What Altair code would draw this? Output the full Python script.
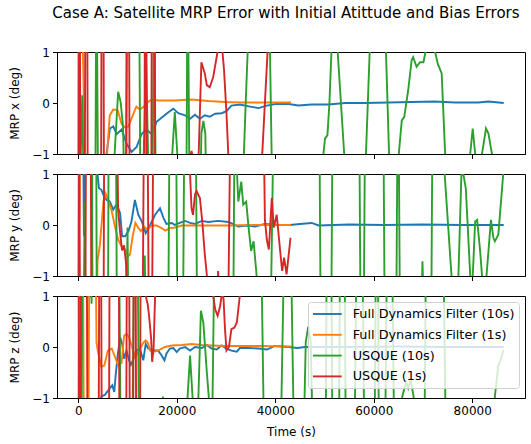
import altair as alt
import pandas as pd

TITLE = "Case A: Satellite MRP Error with Initial Atittude and Bias Errors"
SERIES = ["Full Dynamics Filter (10s)", "Full Dynamics Filter (1s)", "USQUE (10s)", "USQUE (1s)"]
COLORS = ["#1f77b4", "#ff7f0e", "#2ca02c", "#d62728"]
Y_LABELS = ["MRP x (deg)", "MRP y (deg)", "MRP z (deg)"]
X_TICKS = [0, 20000, 40000, 60000, 80000]
Y_TICKS = [-1, 0, 1]

# ---------------- MRP x ----------------
X_FDF10 = [(0,-3),(5000,-3),(5750,-0.99),(6430,-0.50),(7110,-0.46),(7790,-0.61),(8800,-0.52),(9820,-0.80),
           (10830,-0.96),(11850,-0.86),(12860,-0.61),(13880,-0.52),(14900,-0.61),(15900,-0.37),(16900,-0.29),
           (18300,-0.18),(19300,-0.11),(20300,-0.20),(21700,-0.24),(22700,-0.31),(23700,-0.23),(24700,-0.31),
           (25700,-0.24),(26700,-0.27),(27800,-0.21),(29100,-0.20),(30100,-0.16),(31100,-0.05),(32800,-0.03),
           (34900,-0.07),(36600,-0.10),(38300,-0.05),(40000,-0.02),(42700,-0.02),(44700,-0.05),(47400,-0.03),
           (50800,-0.03),(54200,0.0),(58200,0.0),(63000,0.01),(67700,0.02),(72400,0.03),(76500,0.01),
           (81200,0.01),(83300,0.03),(86400,0.0)]
X_FDF1 = [(0,-3),(400,3),(900,1.2),(1100,0.2),(1400,-3),(5500,-3),(5900,-0.9),(6400,-0.24),(7100,-0.13),
          (8000,-0.14),(8800,-0.41),(9500,-0.48),(10200,-0.46),(11200,-0.21),(11800,-0.07),(12500,-0.13),
          (13200,-0.08),(14200,0.02),(14900,0.07),(16200,0.05),(19600,0.05),(23000,0.07),(26400,0.04),
          (29800,0.02),(33200,0.01),(36600,0.01),(43200,0.01)]
X_USQ10 = [(0,-3),(800,0.15),(1300,-3),(3400,-3),(3700,3),(4100,-3),(7200,-1.3),(8100,0.22),(8600,0.02),
           (9100,-0.47),(9600,-3),(10000,3),(12300,3),(12700,-3),(13800,0.75),(14600,-3),(15000,-3),(15400,3),
           (15800,-3),(18900,-1.3),(19600,-0.18),(20300,-1.3),(21900,-3),(22200,3),(22700,-3),(24600,-3),
           (25000,-0.6),(25400,-0.35),(25800,-0.6),(26200,-3),(32900,-3),(34000,0.0),(35200,3),(38600,3),
           (39600,-3),(49600,-3),(49800,-0.99),(50100,-0.70),(50600,-0.63),(51000,-0.01),(51400,0.97),
           (51800,3),(52300,3),(52700,0.97),(54000,-0.99),(54500,-3),(58200,-1.6),(59400,1.6),(62300,1.6),
           (63300,-1.6),(64800,-3),(65100,-0.99),(65700,-0.34),(66200,-0.27),(67000,0.25),(67700,0.84),
           (68000,0.9),(68700,0.71),(69400,0.8),(70100,0.8),(70500,1.0),(71000,1.3),(72000,1.3),(72400,1.03),
           (73000,0.77),(73800,0.58),(74500,-0.99),(75000,-3),(79300,-3),(79600,-0.99),(80100,-0.5),
           (80600,-0.99),(81000,-3),(81800,-3),(82000,-0.99),(82800,-0.5),(83300,-0.6),(84000,-0.99),
           (84300,-3),(86400,-3)]
X_USQ1 = [(0,-3),(100,3),(300,3),(450,-3),(1300,-3),(1450,3),(1800,3),(1950,-3),(4600,-3),(4750,3),
          (5100,3),(5250,-3),(9700,-3),(9850,3),(10300,3),(10450,-3),(13400,-3),(13550,3),(13800,3),
          (13950,-3),(14800,-3),(14950,3),(15500,3),(15650,-3),(22200,-3),(22500,-1.2),(23000,-0.94),
          (23500,-1.2),(24000,-3),(24300,-1.5),(25000,0.8),(25700,0.58),(26100,0.35),(26700,0.31),
          (27400,0.51),(28100,0.9),(28600,1.2),(29200,1.1),(29600,0.65),(30100,-0.2),(30600,-1.3),
          (31000,-3),(36800,-3),(37200,-1.3),(38600,1.3),(39200,3),(43200,3)]

# ---------------- MRP y ----------------
Y_FDF10 = [(0,3),(900,3),(1150,-0.22),(1400,3),(3700,3),(3900,1.0),(4200,0.72),(4700,0.69),(5100,0.59),
           (5750,0.49),(6400,0.46),(7100,0.30),(7800,0.41),(8500,0.23),(8900,-0.22),(9500,-0.22),
           (10200,-0.12),(10800,0.07),(11500,0.49),(12200,0.2),(12900,0.07),(13700,-0.16),(14600,0.0),
           (15600,0.2),(16600,0.33),(17300,0.14),(17900,0.02),(19000,0.04),(19600,0.0),(20600,0.04),
           (21700,0.08),(22700,0.04),(23700,0.02),(25100,0.08),(26400,0.06),(28400,0.08),(30500,0.06),
           (32500,-0.03),(34200,-0.01),(35900,-0.03),(37900,0.02),(40600,0.0),(43000,0.0),(45000,0.02),
           (47400,0.04),(48800,-0.01),(55000,0.01),(62000,0.0),(70000,0.01),(78000,0.0),(86400,0.0)]
Y_FDF1 = [(0,3),(250,0.1),(500,3),(2700,3),(3000,-3),(3700,-3),(3900,-0.71),(4400,-0.38),(5100,0.46),
          (5550,0.62),(6100,0.49),(6800,0.27),(7450,-0.03),(8100,-0.29),(8800,-0.42),(9500,-0.48),
          (10200,-0.61),(10500,-0.58),(11000,-0.25),(11600,0.04),(12200,-0.06),(12700,-0.12),(13400,-0.03),
          (14100,-0.09),(14900,-0.01),(15900,-0.01),(16900,-0.06),(17700,-0.11),(18600,-0.06),(19600,-0.05),
          (21000,-0.01),(23000,-0.01),(26400,-0.01),(29800,-0.01),(36600,0.0),(43200,0.0)]
Y_USQ10 = [(0,-3),(1000,-3),(1300,0.45),(1600,-3),(2700,-3),(2900,3),(3600,3),(3800,-3),(6000,-3),(6200,3),
           (7600,3),(7900,-3),(9600,-3),(10000,-0.05),(10300,-3),(13100,-3),(13500,-0.6),(13900,-3),
           (18200,-3),(18600,3),(19800,3),(20200,-3),(21200,-3),(21600,3),(23800,3),(24200,-3),(31400,-3),
           (31800,3),(32000,1.5),(32500,0.46),(33100,0.85),(33500,0.4),(34100,0.46),(34600,-0.06),
           (35100,-0.51),(35600,-0.32),(36200,-0.97),(36600,-3),(38900,-3),(39800,3),(48900,3),(49300,-3),
           (51300,-3),(51700,3),(57000,3),(57400,-3),(57900,-3),(58300,3),(61900,3),(62300,-3),(64500,-3),
           (64900,3),(65000,3),(65400,-3),(69300,-3),(69900,-0.71),(70500,-3),(71600,-3),(72000,3),
           (74000,1.5),(74400,1.0),(75800,-1.0),(76100,-1.5),(77000,-3),(77200,-1.0),(77800,0.98),
           (78200,1.0),(78700,0.72),(79600,-1.0),(79900,-1.4),(80200,-0.8),(80600,0.07),(81000,0.1),
           (81600,-0.5),(82000,-1.0),(82400,-1.4),(82900,-1.0),(83800,0.1),(84300,-0.25),(84600,-0.32),
           (85300,-0.19),(86300,1.0),(86400,1.1)]
Y_USQ1 = [(0,-3),(150,3),(400,-3),(1400,-3),(1600,3),(2500,3),(2700,-3),(5100,-3),(5300,3),(7700,3),
          (8100,0.3),(8500,-0.15),(8900,-0.5),(9300,-0.4),(9700,-0.75),(10100,-3),(13000,-3),(13400,3),
          (14000,3),(14400,-3),(14900,-3),(15300,3),(22300,3),(22700,1.0),(23000,0.33),(23300,0.2),
          (23700,0.6),(24000,0.67),(24700,0.53),(25200,0.05),(25700,-0.58),(26100,-0.97),(26500,-3),
          (28000,-3),(28400,-0.9),(28800,-3),(30300,-3),(31000,3),(37500,3),(37900,0.1),(38300,-0.29),
          (38700,-0.48),(39300,0.53),(39700,-0.05),(40300,0.2),(41000,-0.51),(41400,-0.9),(41800,-0.64),
          (42300,-0.97),(43100,-0.25)]

# ---------------- MRP z ----------------
Z_FDF10 = [(0,-3),(4200,-3),(4700,-0.97),(5400,-0.94),(6400,-0.81),(6900,-0.75),(7300,-0.88),(7600,-0.55),
           (8000,-0.16),(8500,0.19),(8900,0.06),(9300,-0.23),(9800,-0.07),(10300,-0.26),(10700,-0.35),
           (11200,-0.23),(11800,-0.07),(12500,-0.03),(13200,-0.26),(13700,0.06),(14200,-0.03),(15200,-0.07),
           (16200,-0.07),(16900,-0.16),(17500,-0.26),(17900,-0.13),(18600,-0.03),(19300,-0.02),(20000,-0.10),
           (20600,-0.03),(21700,0.0),(22700,-0.07),(23700,0.0),(25100,-0.02),(26100,0.04),(27100,-0.03),
           (28100,-0.05),(29100,0.03),(30100,-0.03),(31100,-0.07),(32200,-0.09),(32800,-0.02),(34500,-0.02),
           (36600,-0.03),(38300,-0.05),(39900,0.02),(42700,0.0),(44500,-0.02),(46000,0.0),(55000,0.0),
           (65000,0.01),(75000,0.0),(86400,0.0)]
Z_FDF1 = [(0,-3),(250,3),(900,3),(1200,-3),(2000,-3),(2300,3),(3400,3),(3700,0.09),(4000,-0.1),(4700,-0.39),
          (5300,-0.36),(6000,-0.07),(6800,-0.03),(7600,-0.23),(8100,-0.37),(8800,-0.31),(9300,0.22),
          (9800,0.26),(10300,0.19),(11000,-0.03),(11600,-0.2),(12200,-0.1),(13200,0.08),(13700,0.13),
          (14100,0.09),(14600,-0.07),(15600,-0.09),(16600,-0.05),(17600,0.0),(19000,0.03),(21000,0.04),
          (23000,0.06),(25100,0.04),(27100,0.03),(29800,0.02),(33200,0.02),(36600,0.02),(43200,0.01)]
Z_USQ10 = [(0,-3),(600,-3),(900,3),(2400,3),(2700,0.85),(3000,3),(8200,3),(8700,-3),(10900,-3),(11400,3),
           (12000,3),(12400,-3),(16800,-3),(17200,-0.97),(17500,-3),(21800,-3),(22200,-0.97),(22700,-0.17),
           (23200,-0.97),(23500,-3),(24200,-3),(24400,-0.97),(24900,0.71),(25400,0.48),(26100,-0.49),
           (26500,-0.97),(26800,-3),(27000,-3),(27800,3),(37000,3),(37900,-3),(40900,-3),(42000,3),
           (43000,3),(44000,-3),(45500,-3),(46200,0.1),(46700,0.4),(47200,0.1),(47900,-3),(50200,-3),
           (50500,3),(51300,3),(51700,-3),(52900,-3),(53200,3),(54000,3),(54400,-3),(56000,-3),(56600,3),
           (57600,3),(58200,-3),(60100,-3),(60500,3),(60800,3),(61100,-3),(62200,-3),(62800,3),(63600,3),
           (64300,-3),(65500,-3),(65800,-0.97),(66600,-0.68),(67000,-0.81),(67500,-0.65),(68100,-0.97),
           (68400,-3),(70200,-3),(70700,3),(74000,3),(74800,-3),(84400,-3),(84600,-0.97),(85300,-0.36),
           (85900,-0.23),(86300,-0.07),(86400,-0.05)]
Z_USQ1 = [(0,3),(50,3),(150,-3),(400,-3),(600,3),(1700,3),(1900,-3),(4100,-3),(4300,3),(4600,3),(4800,-3),
          (6200,-3),(6400,3),(8200,3),(8400,-3),(9700,-3),(9900,3),(10300,3),(10500,-3),(11100,-3),
          (11300,3),(11600,3),(11800,-3),(12500,-3),(12700,3),(13500,3),(13700,1.0),(14100,0.84),
          (14350,0.64),(14800,0.16),(15000,-0.29),(15300,-0.03),(15600,1.0),(15900,3),(27100,3),(27400,1.0),
          (27800,0.74),(28300,0.61),(28800,0.8),(29100,1.0),(29300,1.1),(29500,0.94),(29800,0.35),
          (30100,-0.07),(30600,0.0),(31100,0.35),(31700,0.38),(32200,0.48),(32500,0.74),(32800,1.0),
          (33200,3),(43200,3)]

PANELS = [
    [X_FDF10, X_FDF1, X_USQ10, X_USQ1],
    [Y_FDF10, Y_FDF1, Y_USQ10, Y_USQ1],
    [Z_FDF10, Z_FDF1, Z_USQ10, Z_USQ1],
]

FONT = "DejaVu Sans"
x_scale = alt.Scale(domain=[-4320, 90720], nice=False, zero=False)
y_scale = alt.Scale(domain=[-1, 1], nice=False, zero=False)
c_scale = alt.Scale(domain=SERIES, range=COLORS)
Y_LABEL_EXPR = "datum.value > 0.5 ? '1' : (datum.value < -0.5 ? '\u22121' : '0')"


def panel(lists, ylabel, bottom):
    layers = []
    for name, pts in zip(SERIES, lists):
        df = pd.DataFrame({"t": [p[0] for p in pts], "v": [p[1] for p in pts], "series": name})
        if bottom:
            xaxis = alt.Axis(values=X_TICKS, format="d", title="Time (s)", labelOverlap=False)
            legend = alt.Legend(title=None, orient="top-right", offset=6,
                                symbolType="M-1,0L3.1,0", symbolSize=196, symbolStrokeWidth=1.9,
                                labelFontSize=12.8, labelFont=FONT, labelColor="black",
                                fillColor="rgba(255,255,255,0.8)", strokeColor="#d0d0d0",
                                cornerRadius=3, padding=4, rowPadding=5.8,
                                labelOffset=24.7, labelLimit=400)
        else:
            xaxis = alt.Axis(values=X_TICKS, labels=False, title=None)
            legend = None
        layers.append(
            alt.Chart(df).mark_line(clip=True, strokeWidth=1.9).encode(
                x=alt.X("t:Q", scale=x_scale, axis=xaxis),
                y=alt.Y("v:Q", scale=y_scale,
                        axis=alt.Axis(values=Y_TICKS, labelExpr=Y_LABEL_EXPR, title=ylabel,
                                      labelOverlap=False, labelSeparation=0)),
                color=alt.Color("series:N", scale=c_scale, legend=legend),
            )
        )
    return alt.layer(*layers).properties(width=468, height=102)


chart = alt.vconcat(
    *[panel(PANELS[i], Y_LABELS[i], i == 2) for i in range(3)], spacing=6
).resolve_scale(color="independent").resolve_legend(color="independent").properties(
    title=alt.TitleParams(TITLE, fontSize=15, font=FONT, fontWeight="normal", color="black",
                          anchor="middle", offset=25, dx=19),
    padding={"left": 8, "top": 5, "right": 4, "bottom": 5},
).configure_view(stroke="black", strokeWidth=1).configure_axis(
    labelFont=FONT, titleFont=FONT, labelFontSize=12, titleFontSize=12, titleFontWeight="normal",
    labelColor="black", titleColor="black", tickColor="black", domainColor="black", grid=False,
    tickSize=4.5, labelPadding=3, domainWidth=1, tickWidth=1, titlePadding=10,
)

chart.save("out.html", embed_options={"renderer": "svg", "actions": False})
